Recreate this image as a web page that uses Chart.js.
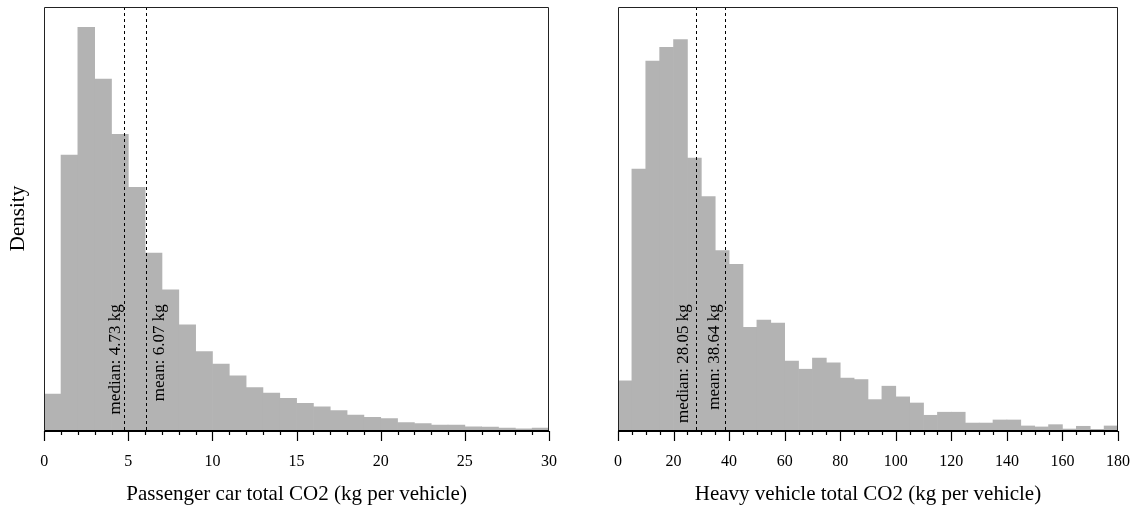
<!DOCTYPE html>
<html>
<head>
<meta charset="utf-8">
<script src="https://cdn.jsdelivr.net/npm/chart.js@4.4.1/dist/chart.umd.min.js"></script>
<style>
  html, body { margin: 0; padding: 0; background: #fff; overflow: hidden; }
  .panel { position: absolute; top: 0; line-height: 0; }
</style>
</head>
<body>
<div class="panel" style="left:0px"><canvas id="carChart" width="580" height="508"></canvas></div>
<div class="panel" style="left:580px"><canvas id="heavyChart" width="557" height="508"></canvas></div>
<script>
// histogram densities (bin width 1 kg for cars, 5 kg for heavy vehicles)
const carBinWidth = 1;
const carDensity = [
    0.0145, 0.1109, 0.1625, 0.1416, 0.1193, 0.0979, 0.0714, 0.0566, 0.0424, 0.0316,
    0.0266, 0.0219, 0.0171, 0.0149, 0.0128, 0.0108, 0.0094, 0.0078, 0.0060, 0.0051,
    0.0046, 0.0030, 0.0026, 0.0020, 0.0020, 0.0013, 0.0012, 0.0008, 0.0005, 0.0008
];
const carMedian = 4.73;
const carMean = 6.07;

const heavyBinWidth = 5;
const heavyDensity = [
    0.00304, 0.01613, 0.02282, 0.02367, 0.02415, 0.01681, 0.01443, 0.01110, 0.01025, 0.00635,
    0.00680, 0.00662, 0.00426, 0.00376, 0.00445, 0.00416, 0.00321, 0.00312, 0.00188, 0.00271,
    0.00205, 0.00167, 0.00091, 0.00110, 0.00110, 0.00043, 0.00043, 0.00062, 0.00062, 0.00025,
    0.00019, 0.00033, 0.00006, 0.00023, 0.00004, 0.00025
];
const heavyMedian = 28.05;
const heavyMean = 38.64;

const FONT = "'Liberation Serif', 'Times New Roman', serif";
const BAR_GREY = '#b3b3b3';

// frame, axis ticks and median/mean markers
const histDecor = {
    id: 'histDecor',
    afterDatasetsDraw(chart, args, opts) {
        const { ctx, chartArea: { left, right, top, bottom }, scales: { x } } = chart;
        ctx.save();

        // dashed median / mean lines with rotated labels
        opts.marks.forEach(m => {
            const px = Math.round(x.getPixelForValue(m.value)) + 0.5;
            ctx.strokeStyle = '#000';
            ctx.lineWidth = 1;
            ctx.setLineDash([3, 3]);
            ctx.beginPath();
            ctx.moveTo(px, top);
            ctx.lineTo(px, bottom);
            ctx.stroke();
            ctx.setLineDash([]);

            ctx.save();
            ctx.translate(px + m.dx, top + (bottom - top) * 0.703);
            ctx.rotate(-Math.PI / 2);
            ctx.font = '17px ' + FONT;
            ctx.fillStyle = '#000';
            ctx.textAlign = 'right';
            ctx.textBaseline = 'alphabetic';
            ctx.fillText(m.label, 0, 0);
            ctx.restore();
        });

        // box
        ctx.strokeStyle = '#222';
        ctx.lineWidth = 1;
        ctx.beginPath();
        ctx.moveTo(Math.round(left) + 0.5, bottom);
        ctx.lineTo(Math.round(left) + 0.5, Math.round(top) + 0.5);
        ctx.lineTo(Math.round(right) - 0.5, Math.round(top) + 0.5);
        ctx.lineTo(Math.round(right) - 0.5, bottom);
        ctx.stroke();

        // thick x axis line
        ctx.strokeStyle = '#000';
        ctx.lineWidth = 2;
        ctx.beginPath();
        ctx.moveTo(left, Math.round(bottom) + 1);
        ctx.lineTo(right, Math.round(bottom) + 1);
        ctx.stroke();

        // tick marks
        ctx.lineWidth = 1.2;
        x.ticks.forEach(t => {
            const px = Math.round(x.getPixelForValue(t.value)) + 0.5;
            const len = t.value % opts.major === 0 ? 10 : 4;
            ctx.beginPath();
            ctx.moveTo(px, Math.round(bottom) + 1);
            ctx.lineTo(px, Math.round(bottom) + 1 + len);
            ctx.stroke();
        });
        ctx.restore();
    }
};

function makeHist(canvasId, density, binWidth, xMax, yMax, step, major, xTitle, showY, pad, marks) {
    const points = density.map((d, i) => ({ x: i * binWidth + binWidth / 2, y: d }));
    return new Chart(document.getElementById(canvasId), {
        type: 'bar',
        data: {
            datasets: [{
                data: points,
                backgroundColor: BAR_GREY,
                borderWidth: 0,
                barPercentage: 1,
                categoryPercentage: 1
            }]
        },
        options: {
            responsive: false,
            animation: false,
            layout: { padding: pad },
            scales: {
                x: {
                    type: 'linear',
                    min: 0,
                    max: xMax,
                    offset: false,
                    grid: {
                        display: true,
                        drawOnChartArea: false,
                        drawTicks: true,
                        tickLength: 20,
                        tickColor: 'rgba(0,0,0,0)',
                        offset: false
                    },
                    border: { display: false },
                    ticks: {
                        stepSize: step,
                        autoSkip: false,
                        maxRotation: 0,
                        minRotation: 0,
                        padding: 2,
                        color: '#000',
                        font: { family: FONT, size: 16 },
                        callback: v => (v % major === 0 ? String(v) : '')
                    },
                    title: {
                        display: true,
                        text: xTitle,
                        color: '#000',
                        font: { family: FONT, size: 21 },
                        padding: { top: 8.6, bottom: 0 }
                    }
                },
                y: {
                    display: showY,
                    min: 0,
                    max: yMax,
                    grid: { display: false, drawTicks: false },
                    border: { display: false },
                    ticks: { display: false },
                    title: {
                        display: true,
                        text: 'Density',
                        color: '#000',
                        font: { family: FONT, size: 21 },
                        padding: { top: 0, bottom: 13 }
                    }
                }
            },
            plugins: {
                legend: { display: false },
                tooltip: { enabled: false },
                histDecor: { major: major, marks: marks }
            }
        },
        plugins: [histDecor]
    });
}

makeHist('carChart', carDensity, carBinWidth, 30, 0.1707, 1, 5,
    'Passenger car total CO2 (kg per vehicle)', true,
    { left: 6, top: 7, right: 31, bottom: 1 },
    [
        { value: carMedian, label: 'median: ' + carMedian.toFixed(2) + ' kg', dx: -4.5 },
        { value: carMean, label: 'mean: ' + carMean.toFixed(2) + ' kg', dx: 17.5 }
    ]);

makeHist('heavyChart', heavyDensity, heavyBinWidth, 180, 0.02616, 5, 20,
    'Heavy vehicle total CO2 (kg per vehicle)', false,
    { left: 38, top: 7, right: 19, bottom: 1 },
    [
        { value: heavyMedian, label: 'median: ' + heavyMedian.toFixed(2) + ' kg', dx: -9 },
        { value: heavyMean, label: 'mean: ' + heavyMean.toFixed(2) + ' kg', dx: -6.5 }
    ]);
</script>
</body>
</html>
